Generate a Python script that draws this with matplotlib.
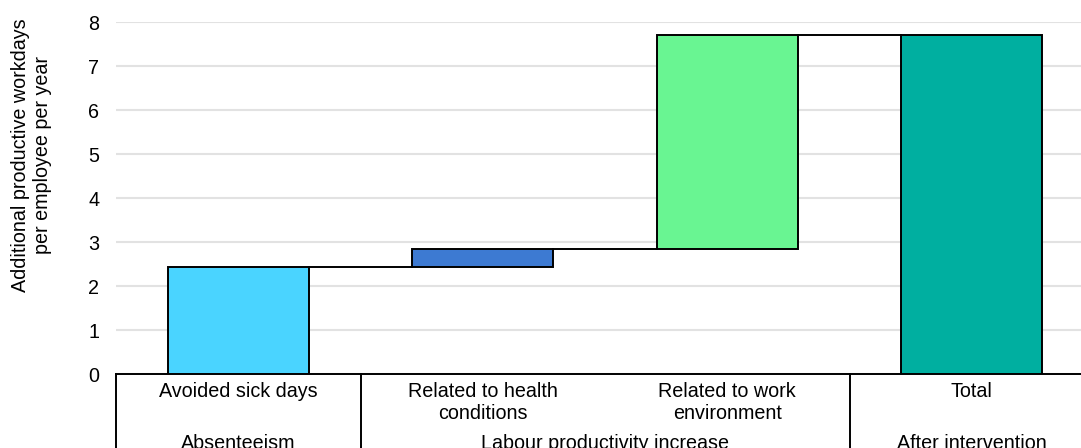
import numpy as np
import matplotlib.pyplot as plt
from matplotlib.transforms import blended_transform_factory

plt.rcParams['font.family'] = ['Liberation Sans', 'DejaVu Sans']

# waterfall steps: additional productive workdays per employee per year
categories = ['Avoided sick days', 'Related to health\nconditions',
              'Related to work\nenvironment', 'Total']
increments = [2.43, 0.41, 4.86]
total = 7.70
colors = ['#4AD4FF', '#3D7AD2', '#69F592', '#00AFA0']

groups = ['Absenteeism', 'Labour productivity increase', 'After intervention']
group_spans = [(0, 0), (1, 2), (3, 3)]

ylabel = 'Additional productive workdays\nper employee per year'

# bar bottoms / heights for the waterfall
bottoms = list(np.concatenate([[0], np.cumsum(increments)[:-1]])) + [0]
heights = increments + [total]

fs = 14.2

fig = plt.figure(figsize=(10.81, 4.48), dpi=100)
ax = fig.add_axes([116 / 1081, 74 / 448, 978 / 1081, 352 / 448])

x = np.arange(len(categories))
width = 0.575
ax.bar(x, heights, width, bottom=bottoms, color=colors,
       edgecolor='black', linewidth=1.4, zorder=3)

# connector lines between consecutive bars
tops = [b + h for b, h in zip(bottoms, heights)]
for i in range(len(categories) - 1):
    ax.plot([x[i] + width / 2, x[i + 1] - width / 2], [tops[i], tops[i]],
            color='black', lw=1.4, zorder=2)

ax.set_xlim(-0.5, len(categories) - 0.5)
ax.set_ylim(0, 8)
ax.set_yticks(range(0, 9))
ax.yaxis.grid(True, color='#E2E2E2', lw=1.5, zorder=0)
ax.set_axisbelow(True)
for s in ['left', 'right', 'top']:
    ax.spines[s].set_visible(False)
ax.spines['bottom'].set_linewidth(1.4)
ax.tick_params(axis='y', length=0, pad=12, labelsize=fs)
ax.set_xticks([])
ax.set_ylabel(ylabel, fontsize=fs, linespacing=1.25)
ax.yaxis.set_label_coords(-0.065, 0.622)

# two-row category table under the axis
trans = blended_transform_factory(ax.transData, ax.transAxes)
for i, lab in enumerate(categories):
    ax.text(x[i], -0.022, lab, transform=trans, ha='center', va='top',
            fontsize=fs, linespacing=1.25)
for name, (a, b) in zip(groups, group_spans):
    ax.text((a + b) / 2, -0.198, name, transform=trans, ha='center',
            va='center', fontsize=fs)
    ax.plot([a - 0.5, a - 0.5], [0, -0.3], transform=trans, color='black',
            lw=1.4, clip_on=False)

fig.savefig('out.png', dpi=100)
